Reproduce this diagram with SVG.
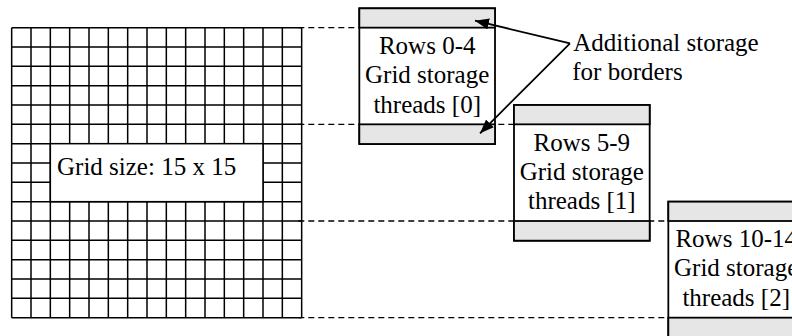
<svg xmlns="http://www.w3.org/2000/svg" width="792" height="336" viewBox="0 0 792 336">
  <style>
    .grid { fill: none; stroke: #000; stroke-width: 1.5; }
    .lbl { font-family: "Liberation Serif", "Times New Roman", serif; font-size: 25px; fill: #000; }
    .box { fill: #fff; stroke: #000; stroke-width: 1.8; }
    .band { fill: #e6e6e6; stroke: #000; stroke-width: 1.8; }
    .dash { fill: none; stroke: #000; stroke-width: 1.4; stroke-dasharray: 6 4; }
    .arrow { fill: none; stroke: #000; stroke-width: 1.8; marker-end: url(#head); }
  </style>
  <defs>
    <marker id="head" markerUnits="userSpaceOnUse" markerWidth="15" markerHeight="11" refX="14" refY="5.5" orient="auto">
      <path d="M0,0 L14,5.5 L0,11 Z" fill="#000"/>
    </marker>
  </defs>
  <rect width="792" height="336" fill="#fff"/>

  <!-- 15 x 15 grid -->
  <g id="grid">
    <path class="grid" d="
      M11.67,27.67V317.67 M31,27.67V317.67 M50.33,27.67V317.67 M69.67,27.67V317.67
      M89,27.67V317.67 M108.33,27.67V317.67 M127.67,27.67V317.67 M147,27.67V317.67
      M166.33,27.67V317.67 M185.67,27.67V317.67 M205,27.67V317.67 M224.33,27.67V317.67
      M243.67,27.67V317.67 M263,27.67V317.67 M282.33,27.67V317.67 M301.67,27.67V317.67
      M11.67,27.67H301.67 M11.67,47H301.67 M11.67,66.33H301.67 M11.67,85.67H301.67
      M11.67,105H301.67 M11.67,124.33H301.67 M11.67,143.67H301.67 M11.67,163H301.67
      M11.67,182.33H301.67 M11.67,201.67H301.67 M11.67,221H301.67 M11.67,240.33H301.67
      M11.67,259.67H301.67 M11.67,279H301.67 M11.67,298.33H301.67 M11.67,317.67H301.67"/>
    <rect x="50.33" y="143.67" width="212.67" height="58" fill="#fff" stroke="#000" stroke-width="1.5"/>
    <text class="lbl" x="57" y="175">Grid size: 15 x 15</text>
  </g>

  <!-- dashed row-range guides -->
  <g id="guides">
    <path class="dash" d="M298.3,27.67H359.33"/>
    <path class="dash" d="M298.3,124.33H514"/>
    <path class="dash" d="M298.3,221H668.33"/>
    <path class="dash" d="M298.3,317.67H668.33"/>
  </g>

  <!-- thread 0 storage -->
  <g id="block0">
    <rect class="box" x="359.33" y="8.33" width="135.67" height="135.67"/>
    <rect class="band" x="359.33" y="8.33" width="135.67" height="19.33"/>
    <rect class="band" x="359.33" y="124.33" width="135.67" height="19.67"/>
    <text class="lbl" x="427.2" y="54" text-anchor="middle">Rows 0-4</text>
    <text class="lbl" x="427.2" y="83.3" text-anchor="middle">Grid storage</text>
    <text class="lbl" x="427.2" y="112.7" text-anchor="middle">threads [0]</text>
  </g>

  <!-- thread 1 storage -->
  <g id="block1">
    <rect class="box" x="514" y="105" width="135.67" height="135.67"/>
    <rect class="band" x="514" y="105" width="135.67" height="19.33"/>
    <rect class="band" x="514" y="221" width="135.67" height="19.67"/>
    <text class="lbl" x="581.8" y="150.6" text-anchor="middle">Rows 5-9</text>
    <text class="lbl" x="581.8" y="180" text-anchor="middle">Grid storage</text>
    <text class="lbl" x="581.8" y="209.3" text-anchor="middle">threads [1]</text>
  </g>

  <!-- thread 2 storage (runs past the right and bottom edges) -->
  <g id="block2">
    <rect class="box" x="668.33" y="201.67" width="135.67" height="135.67"/>
    <rect class="band" x="668.33" y="201.67" width="135.67" height="19.33"/>
    <rect class="band" x="668.33" y="317.67" width="135.67" height="19.67"/>
    <text class="lbl" x="736.2" y="247" text-anchor="middle">Rows 10-14</text>
    <text class="lbl" x="736.2" y="276.3" text-anchor="middle">Grid storage</text>
    <text class="lbl" x="736.2" y="305.7" text-anchor="middle">threads [2]</text>
  </g>

  <!-- border note -->
  <g id="note">
    <text class="lbl" x="573.3" y="50.7">Additional storage</text>
    <text class="lbl" x="572.3" y="80">for borders</text>
  </g>

  <!-- arrows from the note to the border bands -->
  <g id="connectors">
    <path class="arrow" d="M570,43.3L475,20.7"/>
    <path class="arrow" d="M570,43.3L480,133.3"/>
  </g>
</svg>
